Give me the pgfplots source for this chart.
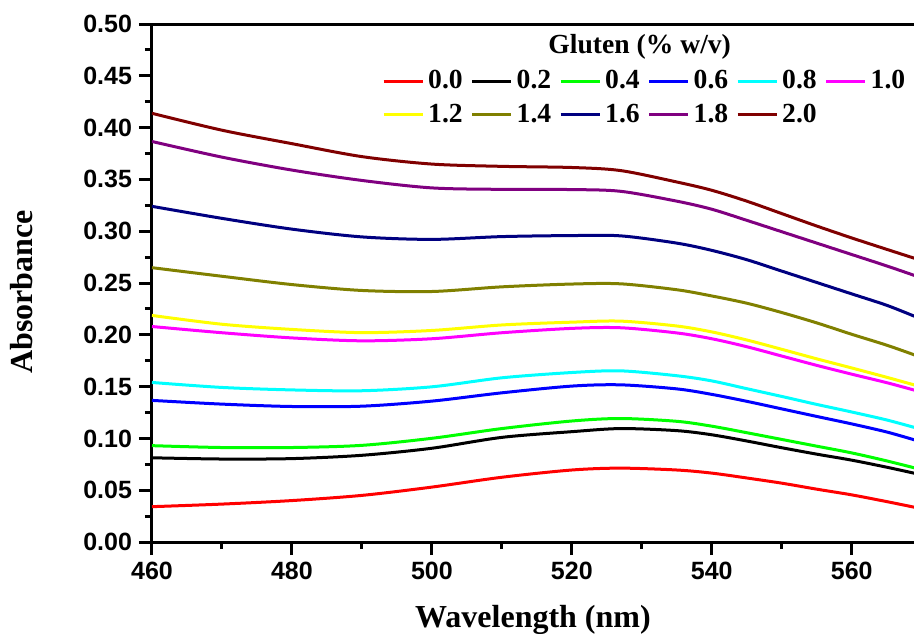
\documentclass[border=0pt]{standalone}
\usepackage{fontspec}
\setmainfont{Liberation Serif}
\setsansfont{Liberation Sans}
\usepackage{pgfplots}
\usepackage{pgfplotstable}
\pgfplotsset{compat=1.18}
\usetikzlibrary{calc}
\definecolor{cRed}{RGB}{255,0,0}
\definecolor{cGreen}{RGB}{0,255,0}
\definecolor{cBlue}{RGB}{0,0,255}
\definecolor{cCyan}{RGB}{0,255,255}
\definecolor{cMag}{RGB}{255,0,255}
\definecolor{cYel}{RGB}{255,255,0}
\definecolor{cOlive}{RGB}{128,128,0}
\definecolor{cNavy}{RGB}{0,0,128}
\definecolor{cPurp}{RGB}{128,0,128}
\definecolor{cDred}{RGB}{128,0,0}
\pgfplotstableread{
x   r      k      g      b      c      m      y      o      n      p      d
460 0.0341 0.0813 0.0930 0.1367 0.1540 0.2080 0.2187 0.2648 0.3240 0.3866 0.4138
470 0.0366 0.0801 0.0912 0.1331 0.1492 0.2020 0.2102 0.2565 0.3124 0.3715 0.3975
480 0.0400 0.0805 0.0912 0.1308 0.1468 0.1970 0.2052 0.2485 0.3020 0.3590 0.3845
490 0.0450 0.0837 0.0933 0.1311 0.1460 0.1942 0.2021 0.2428 0.2945 0.3490 0.3720
500 0.0530 0.0905 0.1001 0.1360 0.1498 0.1962 0.2042 0.2418 0.2921 0.3418 0.3648
510 0.0625 0.1010 0.1095 0.1440 0.1585 0.2020 0.2095 0.2463 0.2948 0.3404 0.3626
520 0.0695 0.1065 0.1168 0.1505 0.1636 0.2062 0.2122 0.2490 0.2958 0.3402 0.3615
527 0.0713 0.1095 0.1192 0.1517 0.1652 0.2068 0.2132 0.2492 0.2955 0.3385 0.3585
535 0.0695 0.1075 0.1165 0.1478 0.1605 0.2018 0.2085 0.2435 0.2885 0.3290 0.3475
540 0.0665 0.1035 0.1118 0.1425 0.1555 0.1962 0.2028 0.2375 0.2815 0.3212 0.3395
545 0.0618 0.0975 0.1055 0.1358 0.1480 0.1885 0.1950 0.2305 0.2725 0.3105 0.3290
550 0.0568 0.0910 0.0990 0.1285 0.1405 0.1795 0.1860 0.2215 0.2615 0.2995 0.3170
555 0.0510 0.0848 0.0925 0.1212 0.1328 0.1705 0.1768 0.2115 0.2505 0.2885 0.3050
560 0.0455 0.0790 0.0860 0.1140 0.1255 0.1620 0.1680 0.2005 0.2395 0.2775 0.2935
565 0.0390 0.0722 0.0783 0.1062 0.1178 0.1538 0.1590 0.1900 0.2285 0.2665 0.2825
569 0.0335 0.0663 0.0715 0.0985 0.1105 0.1465 0.1515 0.1805 0.2178 0.2572 0.2738
}\datatable
\begin{document}
\begin{tikzpicture}
\begin{axis}[
  name=ax,
  at={(0,0)}, anchor=south west,
  scale only axis,
  width=381pt, height=259pt,
  xmin=460, xmax=568.9, ymin=0, ymax=0.5,
  axis x line=box, axis y line=left,
  axis line style={line width=1.5pt, -},
  xtick={460,480,...,560},
  ytick={0,0.05,...,0.51},
  minor x tick num=1, minor y tick num=1,
  xtick pos=bottom, ytick pos=left,
  tick align=outside,
  major tick length=6.5pt, minor tick length=3.5pt,
  every tick/.style={line width=1.5pt, black},
  /pgf/number format/assume math mode=true,
  yticklabel style={/pgf/number format/.cd, fixed, fixed zerofill, precision=2},
  xticklabel style={/pgf/number format/.cd, fixed, precision=0, set thousands separator={}},
  tick label style={font=\fontsize{12.5}{14}\selectfont\sffamily\bfseries},
  xlabel={Wavelength (nm)},
  ylabel={Absorbance},
  label style={font=\fontsize{16}{18}\selectfont\bfseries},
  xlabel style={at={(rel axis cs:0.5,-0.166)}, anchor=base},
  ylabel style={at={(rel axis cs:-0.1562,0.4826)}, anchor=base, rotate=0},
  legend columns=6,
  legend style={at={(rel axis cs:0.3016,0.919)}, anchor=north west, draw=none, fill=none,
    font=\fontsize{13.8}{15}\selectfont\bfseries,
    /tikz/every even column/.append style={column sep=2pt},
    row sep=2pt, inner sep=0pt},
  legend image code/.code={\draw[#1, line width=1.5pt] (0pt,0pt) -- (19.5pt,0pt);},
  every axis plot/.append style={line width=1.5pt, smooth, no markers},
]
\addplot[cRed]   table[x=x,y=r] {\datatable}; \addlegendentry{0.0}
\addplot[black]  table[x=x,y=k] {\datatable}; \addlegendentry{0.2}
\addplot[cGreen] table[x=x,y=g] {\datatable}; \addlegendentry{0.4}
\addplot[cBlue]  table[x=x,y=b] {\datatable}; \addlegendentry{0.6}
\addplot[cCyan]  table[x=x,y=c] {\datatable}; \addlegendentry{0.8}
\addplot[cMag]   table[x=x,y=m] {\datatable}; \addlegendentry{1.0}
\addplot[cYel]   table[x=x,y=y] {\datatable}; \addlegendentry{1.2}
\addplot[cOlive] table[x=x,y=o] {\datatable}; \addlegendentry{1.4}
\addplot[cNavy]  table[x=x,y=n] {\datatable}; \addlegendentry{1.6}
\addplot[cPurp]  table[x=x,y=p] {\datatable}; \addlegendentry{1.8}
\addplot[cDred]  table[x=x,y=d] {\datatable}; \addlegendentry{2.0}
\node[font=\fontsize{13.8}{15}\selectfont\bfseries] at (rel axis cs:0.64,0.955) {Gluten (\% w/v)};
\end{axis}
\pgfresetboundingbox
\path[use as bounding box] ($(ax.south west)+(-76pt,-45.5pt)$) rectangle ($(ax.south west)+(381pt,271pt)$);
\end{tikzpicture}
\end{document}
